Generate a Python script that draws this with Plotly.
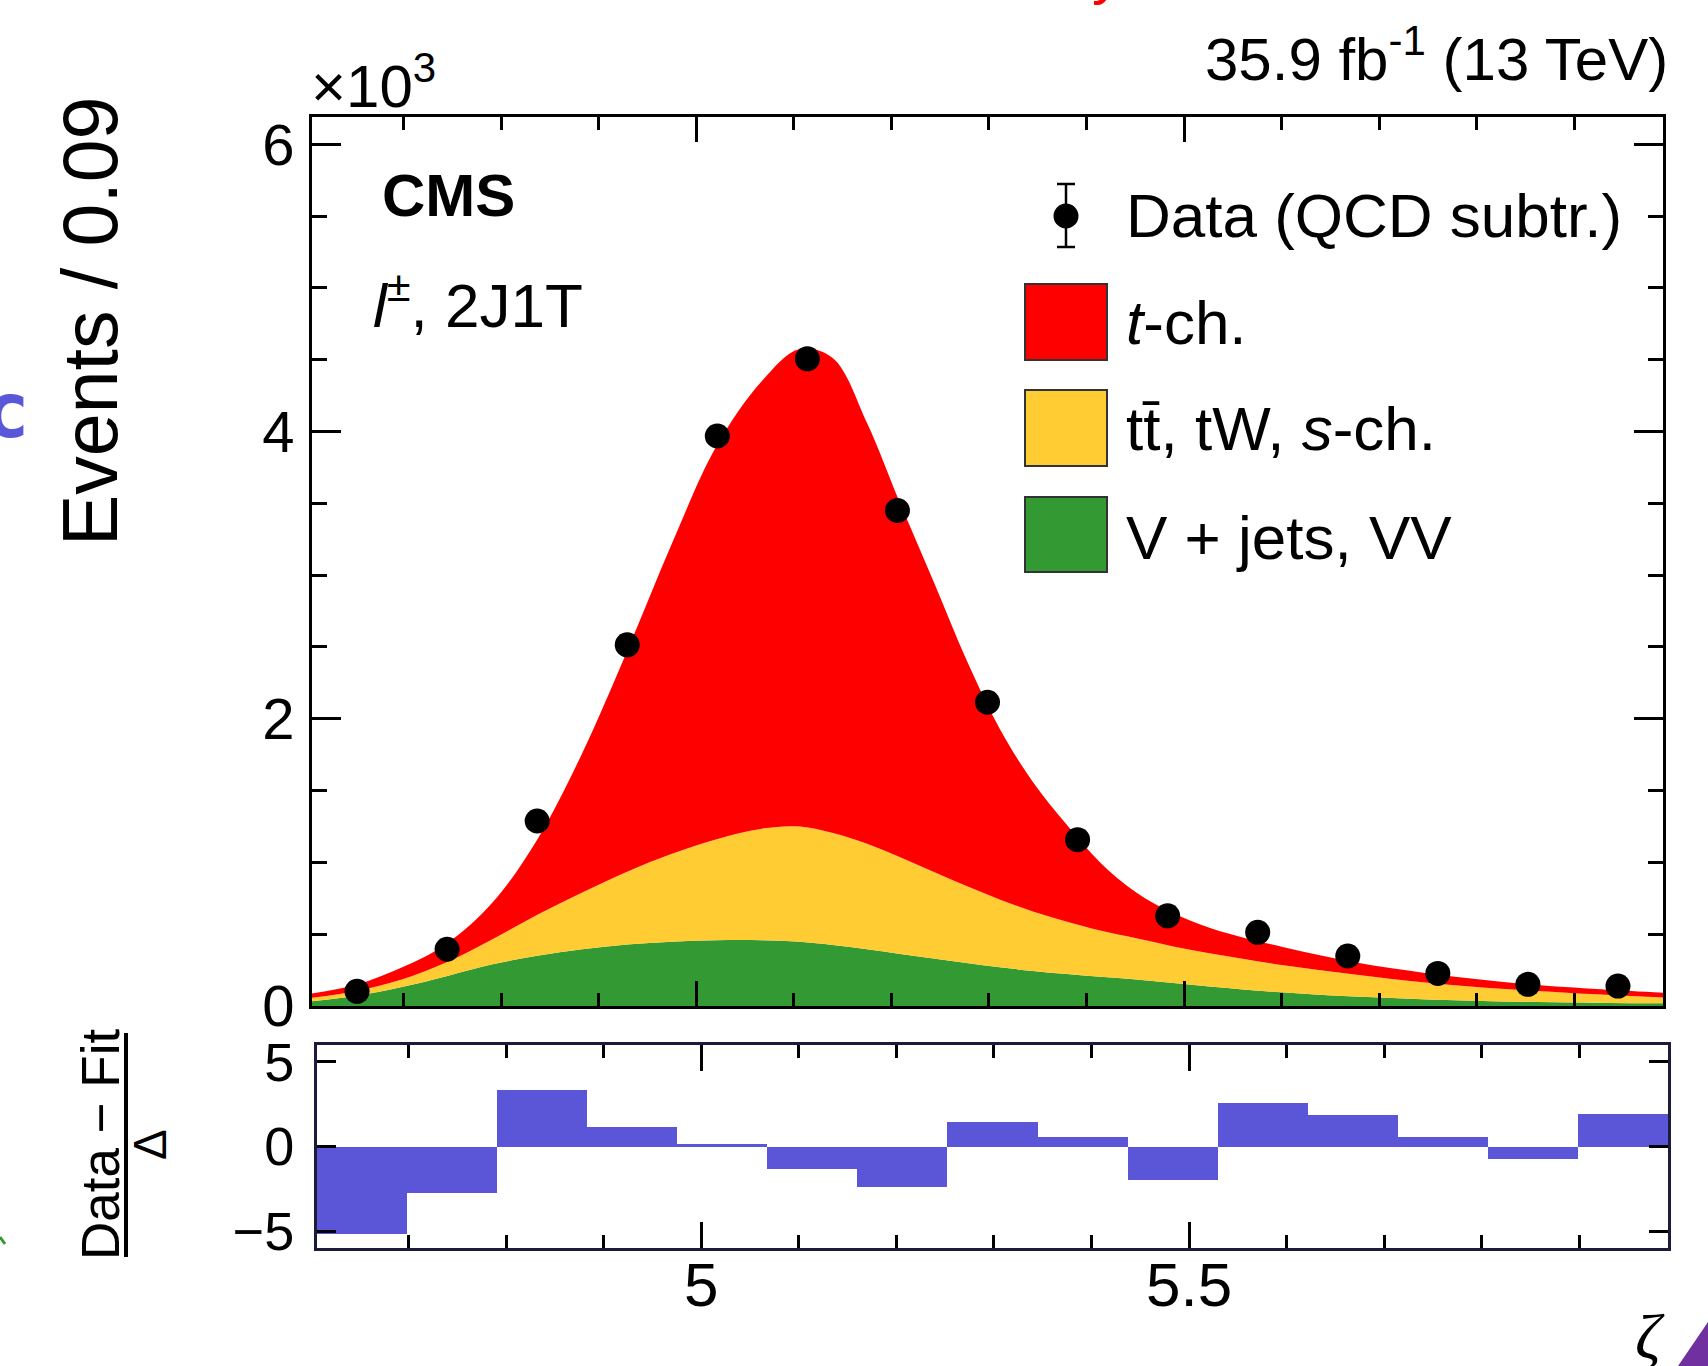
import plotly.graph_objects as go

W, H = 1708, 1366

# ------------------------------------------------------------------ data
zeta_lo, zeta_hi = 4.606, 5.991          # histogram range in zeta
n_bins = 15                               # "Events / 0.09"

# data (QCD subtracted), events per bin in units of 10^3
data_events_k = [0.102, 0.395, 1.288, 2.515, 3.969, 4.506, 3.450, 2.115,
                 1.158, 0.628, 0.513, 0.348, 0.227, 0.151, 0.139]

# (Data - Fit) / Delta per bin
pull = [-5.2, -2.75, 3.33, 1.14, 0.12, -1.31, -2.39, 1.43,
        0.59, -2.0, 2.59, 1.86, 0.59, -0.76, 1.92]

# fitted templates (10^3 events / bin), sampled along zeta
fit_zeta = [4.606, 4.652, 4.698, 4.744, 4.791, 4.837, 4.883, 4.929, 4.975,
            5.020, 5.067, 5.106, 5.140, 5.175, 5.209, 5.243, 5.277, 5.311,
            5.345, 5.380, 5.414, 5.451, 5.489, 5.526, 5.563, 5.600, 5.638,
            5.675, 5.713, 5.750, 5.787, 5.825, 5.862, 5.900, 5.937, 5.991]
fit_vjets = [0.033, 0.072, 0.132, 0.208, 0.290, 0.350, 0.395, 0.428, 0.448,
             0.458, 0.458, 0.447, 0.425, 0.395, 0.362, 0.330, 0.300, 0.270,
             0.244, 0.222, 0.203, 0.184, 0.160, 0.136, 0.114, 0.095, 0.079,
             0.066, 0.055, 0.045, 0.038, 0.032, 0.028, 0.024, 0.021, 0.019]
fit_ttbar = [0.024, 0.033, 0.053, 0.097, 0.175, 0.285, 0.395, 0.507, 0.612,
             0.702, 0.777, 0.803, 0.780, 0.735, 0.673, 0.605, 0.535, 0.472,
             0.414, 0.365, 0.322, 0.287, 0.255, 0.231, 0.211, 0.190, 0.171,
             0.154, 0.133, 0.117, 0.101, 0.088, 0.076, 0.065, 0.056, 0.041]
fit_tch = [0.030, 0.045, 0.083, 0.129, 0.255, 0.525, 0.970, 1.535, 2.160,
           2.730, 3.115, 3.325, 3.305, 2.930, 2.465, 2.025, 1.575, 1.188,
           0.902, 0.673, 0.475, 0.319, 0.230, 0.178, 0.147, 0.128, 0.105,
           0.084, 0.074, 0.065, 0.058, 0.049, 0.043, 0.039, 0.034, 0.033]

bin_width = (zeta_hi - zeta_lo) / n_bins
bin_left = [zeta_lo + i * bin_width for i in range(n_bins)]
bin_center = [b + bin_width / 2 for b in bin_left]

# ------------------------------------------------------------------ style
C_GREEN, C_YELLOW, C_RED = "#339933", "#ffcc33", "#ff0000"
C_PULL = "#5b55d8"
FONT = "Liberation Sans"


def px(x):
    return x / W


def py(y):
    return 1 - y / H


fig = go.Figure()

for vals, col, name in [(fit_vjets, C_GREEN, "V + jets, VV"),
                        (fit_ttbar, C_YELLOW, "tt̄, tW, s-ch."),
                        (fit_tch, C_RED, "t-ch.")]:
    fig.add_trace(go.Scatter(
        x=fit_zeta, y=vals, name=name, mode="lines", stackgroup="fit",
        line=dict(width=0, shape="spline", smoothing=1.0, color=col),
        fillcolor=col, xaxis="x", yaxis="y", showlegend=False,
        hoverinfo="skip"))

fig.add_trace(go.Scatter(
    x=bin_center, y=data_events_k, mode="markers", name="Data (QCD subtr.)",
    marker=dict(color="black", size=25), xaxis="x", yaxis="y",
    showlegend=False))

fig.add_trace(go.Bar(
    x=bin_left, y=pull, width=bin_width, offset=0, marker_color=C_PULL,
    marker_line_width=0, xaxis="x2", yaxis="y2", showlegend=False))

axis_common = dict(showgrid=False, zeroline=False, showline=True,
                   mirror="allticks", ticks="inside", tickcolor="black",
                   tickwidth=2.5, automargin=False)

main_x_dom = [px(312), px(1663)]
ratio_x_dom = [px(317), px(1668)]

fig.update_layout(
    width=W, height=H,
    margin=dict(l=0, r=0, t=0, b=0, pad=0, autoexpand=False),
    paper_bgcolor="white", plot_bgcolor="white",
    font=dict(family=FONT, color="black"),
    bargap=0,
    xaxis=dict(axis_common, domain=main_x_dom, range=[zeta_lo, zeta_hi],
               anchor="y", showticklabels=False, tick0=5, dtick=0.5,
               ticklen=25, linecolor="black", linewidth=3,
               minor=dict(dtick=0.1, tick0=5, ticklen=13, tickwidth=2.5,
                          ticks="inside", tickcolor="black")),
    yaxis=dict(axis_common, domain=[py(1006), py(117)], range=[0, 6.19],
               anchor="x", tick0=0, dtick=2, ticklen=29, linecolor="black",
               linewidth=3, tickfont=dict(size=58, family=FONT),
               ticklabelstandoff=3,
               minor=dict(dtick=0.5, tick0=0, ticklen=15, tickwidth=2.5,
                          ticks="inside", tickcolor="black")),
    xaxis2=dict(axis_common, domain=ratio_x_dom, range=[zeta_lo, zeta_hi],
                anchor="y2", tick0=5, dtick=0.5, ticklen=26,
                linecolor="#1c1c3a", linewidth=3,
                tickfont=dict(size=62, family=FONT), ticklabelstandoff=-19,
                minor=dict(dtick=0.1, tick0=5, ticklen=13, tickwidth=2.5,
                           ticks="inside", tickcolor="black")),
    yaxis2=dict(axis_common, domain=[py(1248), py(1045)], range=[-6, 6],
                anchor="x2", tick0=0, dtick=5, ticklen=19,
                linecolor="#1c1c3a", linewidth=3,
                tickfont=dict(size=54, family=FONT), ticklabelstandoff=9),
)

ann = []


def text(t, x, y, size, xanchor="left", yanchor="bottom", angle=0,
         family=FONT, color="black"):
    ann.append(dict(text=t, x=px(x), y=py(y), xref="paper", yref="paper",
                    xanchor=xanchor, yanchor=yanchor, showarrow=False,
                    textangle=angle, font=dict(size=size, family=family,
                                               color=color)))


# header / labels (baseline + descent for bottom anchoring)
text("35.9 fb<sup>-1</sup> (13 TeV)", 1670, 80 + 13 + 2, 60, "right")
text("×10<sup>3</sup>", 309, 107 + 13 + 2, 60, "left")
text("<b>CMS</b>", 380, 216 + 13 + 2, 60, "left")
text("<i>l</i><sup>±</sup>, 2J1T", 371, 327 + 13 + 2, 62, "left")
text("Events / 0.09", 90, 322, 77, "center", "middle", -90)
text("Data − Fit", 100, 1144, 53, "center", "middle", -90)
text("Δ", 150, 1145, 46, "center", "middle", -90)
text("<i>ζ</i>", 1650, 1336, 64, "center", "middle",
     family="Liberation Serif")

# legend texts
LEG_X = 1124
text("Data (QCD subtr.)", LEG_X, 237 + 13 + 2, 62)
text("<i>t</i>-ch.", LEG_X, 344 + 13 + 2, 62)
text("tt̄, tW, <i>s</i>-ch.", LEG_X, 450 + 13 + 2, 62)
text("V + jets, VV", LEG_X, 559 + 13 + 2, 62)

# stray fragments visible at the crop edges of the source
text("<b>c</b>", 32, 457, 76, "right", "bottom", family="DejaVu Sans Mono",
     color="#5a58d8")
text("y", 1090, 8, 60, "left", "bottom", color="#ff0000")

fig.update_layout(annotations=ann)

shapes = []
# legend boxes
for (y0, y1), col in [((284, 360), C_RED), ((390, 466), C_YELLOW),
                      ((497, 572), C_GREEN)]:
    shapes.append(dict(type="rect", xref="paper", yref="paper",
                       x0=px(1025), x1=px(1107), y0=py(y1), y1=py(y0),
                       fillcolor=col, line=dict(color="#333333", width=2)))
# legend data marker with error bar
shapes.append(dict(type="line", xref="paper", yref="paper", x0=px(1066),
                   x1=px(1066), y0=py(247), y1=py(184),
                   line=dict(color="black", width=2.5)))
for yy in (184, 247):
    shapes.append(dict(type="line", xref="paper", yref="paper", x0=px(1057),
                       x1=px(1075), y0=py(yy), y1=py(yy),
                       line=dict(color="black", width=2.5)))
shapes.append(dict(type="circle", xref="paper", yref="paper",
                   x0=px(1066 - 12.5), x1=px(1066 + 12.5),
                   y0=py(216 + 12.5), y1=py(216 - 12.5),
                   fillcolor="black", line=dict(color="black", width=0)))
# fraction bar of the pull-axis title
shapes.append(dict(type="line", xref="paper", yref="paper", x0=px(126),
                   x1=px(126), y0=py(1257), y1=py(1033),
                   line=dict(color="black", width=4)))
# purple corner triangle and green speck at the edges
shapes.append(dict(type="path", xref="paper", yref="paper",
                   path=f"M {px(1678)} {py(1366)} L {px(1708)} {py(1322)} "
                        f"L {px(1708)} {py(1366)} Z",
                   fillcolor="#7030a0", line=dict(width=0)))
shapes.append(dict(type="line", xref="paper", yref="paper", x0=px(0),
                   x1=px(5), y0=py(1237), y1=py(1244),
                   line=dict(color="#339933", width=3)))
fig.update_layout(shapes=shapes)

fig.write_html(
    "out.html",
    config={"displayModeBar": False},
    post_script="document.body.style.margin='0';"
                "document.body.style.padding='0';"
                "document.documentElement.style.overflow='hidden';")
